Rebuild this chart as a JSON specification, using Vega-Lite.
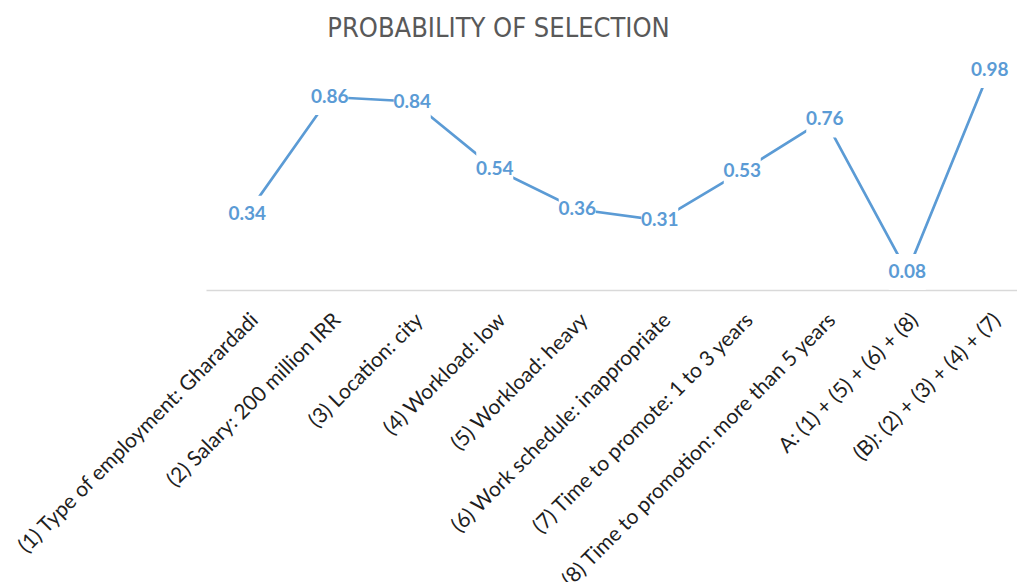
{
  "$schema": "https://vega.github.io/schema/vega-lite/v6.json",
  "autosize": {"type": "none"},
  "width": 825,
  "height": 224.4,
  "padding": {"left": 206, "top": 65.6, "right": 0, "bottom": 292},
  "background": "white",
  "view": {"stroke": null},
  "title": {
    "text": "PROBABILITY OF SELECTION",
    "font": "Liberation Sans Narrow, DejaVu Sans Condensed, sans-serif",
    "fontSize": 27,
    "fontWeight": "normal",
    "color": "#595959",
    "anchor": "middle",
    "dx": -120,
    "offset": 9
  },
  "data": {
    "values": [
      {"factor": "(1) Type of employment: Gharardadi", "p": 0.34},
      {"factor": "(2) Salary: 200 million IRR", "p": 0.86},
      {"factor": "(3) Location: city", "p": 0.84},
      {"factor": "(4) Workload: low", "p": 0.54},
      {"factor": "(5) Workload: heavy", "p": 0.36},
      {"factor": "(6) Work schedule: inappropriate", "p": 0.31},
      {"factor": "(7) Time to promote: 1 to 3 years", "p": 0.53},
      {"factor": "(8) Time to promotion: more than 5 years", "p": 0.76},
      {"factor": "A: (1) + (5) + (6) + (8)", "p": 0.08},
      {"factor": "(B): (2) + (3) + (4) + (7)", "p": 0.98}
    ]
  },
  "encoding": {
    "x": {
      "field": "factor",
      "type": "nominal",
      "sort": null,
      "scale": {"type": "band", "paddingInner": 0, "paddingOuter": 0},
      "axis": {
        "title": null,
        "ticks": false,
        "grid": false,
        "domainColor": "#d9d9d9",
        "domainWidth": 1.5,
        "labelAngle": 315,
        "labelAlign": "right",
        "labelBaseline": "top",
        "labelPadding": 19,
        "labelOffset": 0,
        "labelLimit": 0,
        "labelFont": "Lato, sans-serif",
        "labelFontSize": 21,
        "labelColor": "#1f1f1f"
      }
    },
    "y": {
      "field": "p",
      "type": "quantitative",
      "scale": {"domain": [0, 1], "nice": false},
      "axis": null
    }
  },
  "layer": [
    {"mark": {"type": "line", "color": "#5B9BD5", "strokeWidth": 2.7}},
    {"mark": {"type": "point", "shape": "M-1,-0.973H1V0.973H-1Z", "filled": true, "fill": "white", "stroke": null, "opacity": 1, "size": 1369}},
    {"mark": {"type": "text", "font": "Lato, sans-serif", "fontSize": 19, "fontWeight": "bold", "color": "#5B9BD5", "align": "center", "baseline": "middle"},
     "encoding": {"text": {"field": "p", "type": "quantitative", "format": ".2f"}}}
  ]
}
